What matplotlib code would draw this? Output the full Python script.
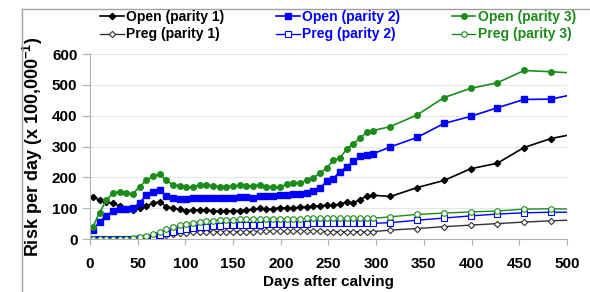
import matplotlib
matplotlib.use("Agg")
import matplotlib.pyplot as plt
from matplotlib.lines import Line2D

plt.rcParams['font.family'] = ['Liberation Sans', 'DejaVu Sans']
plt.rcParams['font.weight'] = 'bold'
plt.rcParams['mathtext.fontset'] = 'custom'
plt.rcParams['mathtext.bf'] = 'Liberation Sans:bold'
plt.rcParams['mathtext.rm'] = 'Liberation Sans:bold'

# days after calving: weekly up to ~300, then every 4 weeks
days = list(range(3, 298, 7)) + [315, 343, 371, 399, 427, 455, 483, 511]

open_p1 = [136, 127, 121, 116, 107, 98, 94, 100, 107, 116,
           121, 105, 100, 96, 92, 94, 94, 94, 92, 90,
           90, 92, 92, 94, 96, 100, 96, 98, 102, 100,
           100, 104, 104, 106, 108, 110, 110, 113, 120, 117,
           128, 139, 142,
           138, 167, 190, 228, 246, 297, 326, 343]
open_p2 = [28, 56, 76, 90, 96, 97, 100, 117, 142, 151,
           160, 139, 133, 130, 130, 133, 134, 134, 132, 132,
           134, 134, 136, 136, 134, 138, 140, 140, 142, 143,
           145, 146, 149, 155, 165, 187, 196, 219, 233, 252,
           268, 274, 277,
           299, 330, 375, 398, 426, 453, 454, 472]
open_p3 = [38, 86, 125, 149, 154, 150, 147, 170, 190, 203,
           212, 190, 176, 173, 170, 168, 175, 176, 173, 170,
           170, 172, 174, 173, 172, 176, 170, 170, 168, 178,
           183, 182, 190, 198, 214, 230, 255, 263, 292, 309,
           328, 346, 352,
           365, 403, 459, 489, 507, 547, 543, 538]
preg_p1 = [0, 0, 0, 0, 0, 0, 0, 0, 2, 5,
           8, 12, 15, 18, 20, 22, 23, 24, 24, 24,
           24, 24, 24, 24, 24, 25, 25, 25, 25, 25,
           25, 25, 25, 25, 25, 24, 24, 24, 24, 24,
           24, 24, 24,
           29, 34, 40, 45, 50, 55, 59, 62]
preg_p2 = [0, 0, 0, 0, 0, 0, 0, 2, 4, 7,
           12, 18, 24, 29, 33, 36, 38, 40, 42, 43,
           44, 45, 46, 46, 47, 47, 48, 48, 49, 49,
           50, 50, 50, 51, 51, 51, 51, 51, 51, 51,
           51, 51, 51,
           53, 61, 68, 75, 81, 85, 87, 87]
preg_p3 = [0, 0, 0, 0, 0, 0, 2, 5, 10, 16,
           23, 31, 38, 44, 49, 52, 55, 58, 60, 62,
           63, 63, 64, 64, 65, 65, 65, 66, 66, 66,
           66, 66, 67, 67, 67, 67, 67, 67, 67, 67,
           67, 67, 67,
           72, 80, 84, 88, 91, 97, 98, 97]

black = '#000000'
blue = '#0000ff'
green = '#1a8c1a'

fig = plt.figure(figsize=(5.9, 2.92), dpi=100)
ax = fig.add_axes([0.1525, 0.1815, 0.8085, 0.633])

ax.plot(days, open_p1, color=black, lw=1.2, marker='D', ms=3.2, label='Open (parity 1)')
ax.plot(days, open_p2, color=blue, lw=1.2, marker='s', ms=4, label='Open (parity 2)')
ax.plot(days, open_p3, color=green, lw=1.2, marker='o', ms=4, label='Open (parity 3)')
ax.plot(days, preg_p1, color='#333333', lw=1.0, marker='D', ms=3.2, mfc='white', mec='#333333', mew=0.8, label='Preg (parity 1)')
ax.plot(days, preg_p2, color=blue, lw=1.0, marker='s', ms=4, mfc='white', mec=blue, mew=0.8, label='Preg (parity 2)')
ax.plot(days, preg_p3, color=green, lw=1.0, marker='o', ms=4, mfc='white', mec=green, mew=0.8, label='Preg (parity 3)')

ax.set_xlim(0, 500)
ax.set_ylim(0, 600)
ax.set_xticks(range(0, 501, 50))
ax.set_yticks(range(0, 601, 100))
ax.yaxis.grid(True, color='#e6e6e6', lw=0.8)
ax.set_axisbelow(True)
for s in ['top', 'right']:
    ax.spines[s].set_visible(False)
for s in ['left', 'bottom']:
    ax.spines[s].set_color('#b0b0b0')
ax.tick_params(axis='x', colors='#b0b0b0', length=4, pad=9, labelsize=11, labelcolor='black')
ax.tick_params(axis='y', colors='#b0b0b0', length=6, pad=3, labelsize=11, labelcolor='black')
for t in ax.get_xticklabels() + ax.get_yticklabels():
    t.set_fontweight('bold')

ax.set_xlabel('Days after calving', fontsize=11, fontweight='bold', labelpad=3)
ax.set_ylabel(r'Risk per day (x 100,000$^{\mathbf{-1}}$)', fontsize=13, fontweight='bold', labelpad=5)

h, l = ax.get_legend_handles_labels()
order = [0, 3, 1, 4, 2, 5]
leg = fig.legend([h[i] for i in order], [l[i] for i in order], ncol=3,
                 loc='upper left', bbox_to_anchor=(0.16, 0.985), frameon=False,
                 fontsize=10, handlelength=1.7, handletextpad=0.2,
                 columnspacing=3.7, labelspacing=0.25, borderaxespad=0)
cols = [black, black, blue, blue, green, green]
for txt, c in zip(leg.get_texts(), cols):
    txt.set_color(c)
    txt.set_fontweight('bold')

# chart-area border
fig.add_artist(Line2D([22 / 590, 1.0], [1 - 9 / 292, 1 - 9 / 292], transform=fig.transFigure, color='#a0a0a0', lw=1))
fig.add_artist(Line2D([22 / 590, 22 / 590], [0, 1 - 9 / 292], transform=fig.transFigure, color='#a0a0a0', lw=1))

fig.savefig('out.png', dpi=100)
